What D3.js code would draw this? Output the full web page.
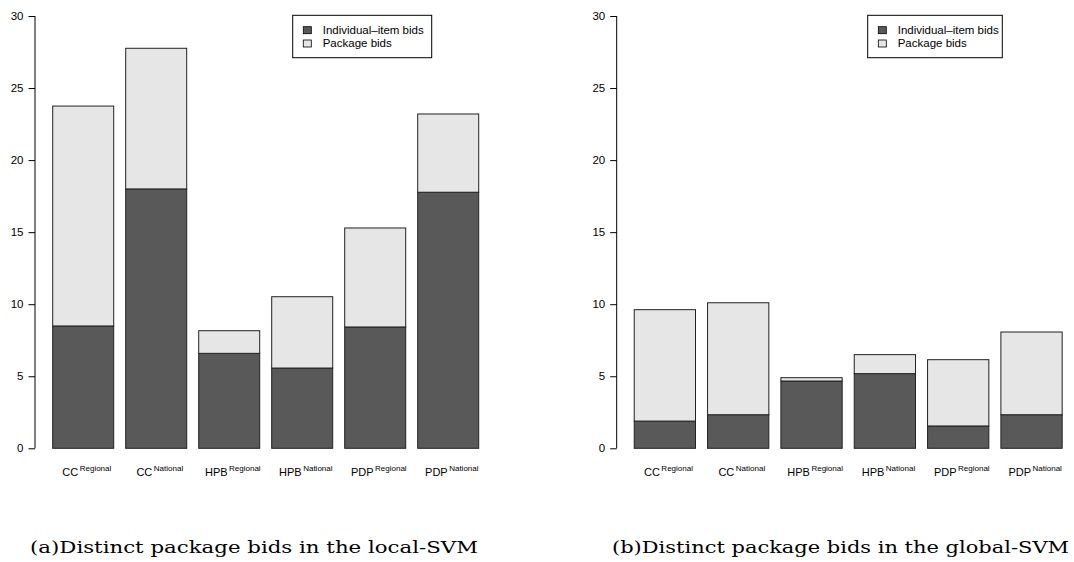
<!DOCTYPE html>
<html>
<head>
<meta charset="utf-8">
<script src="https://cdn.jsdelivr.net/npm/d3@7"></script>
<style>
  body { margin: 0; background: #fff; }
  svg { display: block; }
</style>
</head>
<body>
<svg id="chart"></svg>
<script>
// data
const categories = ['CC', 'CC', 'HPB', 'HPB', 'PDP', 'PDP'];
const scopes = ['Regional', 'National', 'Regional', 'National', 'Regional', 'National'];
const seriesNames = ['Individual\u2013item bids', 'Package bids'];

const localIndividual = [8.49, 18.0, 6.59, 5.57, 8.42, 17.77];
const localPackage = [15.26, 9.76, 1.57, 4.95, 6.87, 5.43];

const globalIndividual = [1.89, 2.33, 4.67, 5.18, 1.55, 2.33];
const globalPackage = [7.73, 7.77, 0.23, 1.32, 4.6, 5.74];

const yTicks = [0, 5, 10, 15, 20, 25, 30];
const captions = ['(a)Distinct package bids in the local-SVM', '(b)Distinct package bids in the global-SVM'];

const width = 1074;
const height = 562;
const colors = ['#595959', '#e6e6e6'];

const svg = d3.select('#chart')
    .attr('width', width)
    .attr('height', height);

// layout per panel
const panels = [
    {
        individual: localIndividual, pkg: localPackage, caption: captions[0],
        axisX: 35, barRange: [46.7, 484.7],
        legend: { x: 292.7, y: 15.3, w: 139, h: 42.4 },
        captionX: 30, captionW: 448
    },
    {
        individual: globalIndividual, pkg: globalPackage, caption: captions[1],
        axisX: 616.7, barRange: [628.2, 1068.2],
        legend: { x: 867.7, y: 15.3, w: 134.6, h: 42.4 },
        captionX: 612, captionW: 457
    }
];

const y = d3.scaleLinear().domain([0, 30]).range([448.3, 16]);
const sans = '"Liberation Sans", Arial, sans-serif';

function drawPanel(p) {
    const g = svg.append('g');

    const rows = categories.map((c, i) => ({
        key: i, individual: p.individual[i], pkg: p.pkg[i]
    }));

    const x = d3.scaleBand()
        .domain(rows.map(d => d.key))
        .range(p.barRange)
        .paddingInner(0.1644)
        .paddingOuter(0.0822);

    const layers = d3.stack().keys(['individual', 'pkg'])(rows);

    g.append('g')
        .selectAll('g')
        .data(layers)
        .enter()
        .append('g')
            .attr('fill', (d, i) => colors[i])
        .selectAll('rect')
        .data(d => d)
        .enter()
        .append('rect')
            .attr('x', d => x(d.data.key))
            .attr('width', x.bandwidth())
            .attr('y', d => y(d[1]))
            .attr('height', d => y(d[0]) - y(d[1]))
            .attr('stroke', '#222')
            .attr('stroke-width', 1);

    // y axis, R style (line only spans the tick range)
    const axis = d3.axisLeft(y).tickValues(yTicks).tickSize(6.5).tickPadding(5).tickSizeOuter(0);
    const ag = g.append('g')
        .attr('transform', `translate(${p.axisX},0)`)
        .call(axis);
    ag.select('.domain').attr('stroke', '#000').attr('d', `M0,${y(0)}V${y(30)}`);
    ag.selectAll('.tick line').attr('stroke', '#000');
    ag.selectAll('.tick text')
        .attr('fill', '#000')
        .style('font-family', sans)
        .style('font-size', '11.5px');

    // category labels with superscripts
    const labels = g.append('g')
        .selectAll('text')
        .data(rows)
        .enter()
        .append('text')
            .attr('x', d => x(d.key) + x.bandwidth() / 2 + 3.6)
            .attr('y', 476)
            .attr('text-anchor', 'middle')
            .style('font-family', sans)
            .style('font-size', '11px')
            .attr('fill', '#000');
    labels.append('tspan').text(d => categories[d.key]);
    labels.append('tspan')
        .attr('dx', 1.5)
        .attr('dy', -5.3)
        .style('font-size', '8px')
        .text(d => scopes[d.key]);

    // legend
    const lg = g.append('g').attr('transform', `translate(${p.legend.x},${p.legend.y})`);
    lg.append('rect')
        .attr('width', p.legend.w)
        .attr('height', p.legend.h)
        .attr('fill', '#fff')
        .attr('stroke', '#000')
        .attr('stroke-width', 1);
    seriesNames.forEach((name, i) => {
        lg.append('rect')
            .attr('x', 10.6)
            .attr('y', 11.4 + i * 13.3)
            .attr('width', 8)
            .attr('height', 7)
            .attr('fill', colors[i])
            .attr('stroke', '#000')
            .attr('stroke-width', 0.8);
        lg.append('text')
            .attr('x', 30)
            .attr('y', 18.9 + i * 13.3)
            .style('font-family', sans)
            .style('font-size', '11.5px')
            .attr('fill', '#000')
            .text(name);
    });

    // caption
    svg.append('text')
        .attr('x', p.captionX)
        .attr('y', 553)
        .attr('textLength', p.captionW)
        .attr('lengthAdjust', 'spacingAndGlyphs')
        .style('font-family', '"DejaVu Serif", "Liberation Serif", serif')
        .style('font-size', '17px')
        .attr('fill', '#000')
        .text(p.caption);
}

panels.forEach(drawPanel);
</script>
</body>
</html>
